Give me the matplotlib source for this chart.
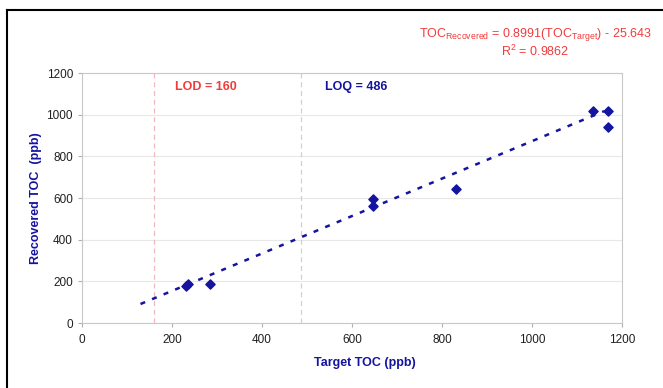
import matplotlib.pyplot as plt
import numpy as np
from matplotlib.lines import Line2D

plt.rcParams['font.family'] = ['Liberation Sans', 'DejaVu Sans']

# measured points
target_toc = [230, 235, 284, 647, 647, 831, 1136, 1169, 1169]
recovered_toc = [180, 186, 187, 563, 595, 643, 1016, 1016, 941]

# regression reported on the chart
slope = 0.8991
intercept = -25.643
r_squared = 0.9862
fit_x = [130, 1160]

lod = 160
loq = 486

x_ticks = [0, 200, 400, 600, 800, 1000, 1200]
y_ticks = [0, 200, 400, 600, 800, 1000, 1200]

navy = '#1414a0'
red = '#f03c3c'

fig = plt.figure(figsize=(6.63, 3.88), dpi=100)
ax = fig.add_axes([0.1237, 0.1675, 0.8145, 0.644])

ax.set_xlim(0, 1200)
ax.set_ylim(0, 1200)
ax.set_xticks(x_ticks)
ax.set_yticks(y_ticks)
ax.tick_params(labelsize=8.5, length=3, color='#b0b0b0', colors='#202020')
ax.tick_params(axis='x', pad=5)
for s in ax.spines.values():
    s.set_color('#c8c8c8')
    s.set_linewidth(0.8)
ax.yaxis.grid(True, color='#e8e8e8', linewidth=0.8)
ax.set_axisbelow(True)

ax.axvline(lod, color='#f2b8c0', linestyle=(0, (4, 3)), linewidth=0.9)
ax.axvline(loq, color='#d0d0d0', linestyle=(0, (4, 3)), linewidth=0.9)

fx = np.array(fit_x)
ax.plot(fx, slope * fx + intercept, linestyle=(0, (2, 3)), color=navy,
        linewidth=1.8)
ax.scatter(target_toc, recovered_toc, marker='D', s=22, color=navy,
           zorder=3)

ax.text(0.172, 0.944, f'LOD = {lod}', transform=ax.transAxes, color=red,
        fontsize=9, fontweight='bold', va='center')
ax.text(0.45, 0.944, f'LOQ = {loq}', transform=ax.transAxes, color=navy,
        fontsize=9, fontweight='bold', va='center')

ax.set_xlabel('Target TOC (ppb)', color=navy, fontsize=9, fontweight='bold',
              x=0.524, labelpad=8)
ax.set_ylabel('Recovered TOC  (ppb)', color=navy, fontsize=9,
              fontweight='bold', labelpad=3)

fig.text(0.807, 0.905,
         r'TOC$_{\mathregular{Recovered}}$ = 0.8991(TOC$_{\mathregular{Target}}$) - 25.643',
         color=red, fontsize=9, ha='center')
fig.text(0.807, 0.855, r'R$^{\mathregular{2}}$ = ' + f'{r_squared}',
         color=red, fontsize=9, ha='center')

# frame edges of the original screenshot
fig.add_artist(Line2D([0.011, 0.011], [0, 0.975], color='black', lw=1.5))
fig.add_artist(Line2D([0.011, 1], [0.975, 0.975], color='black', lw=1.5))

fig.savefig('out.png', dpi=100)
